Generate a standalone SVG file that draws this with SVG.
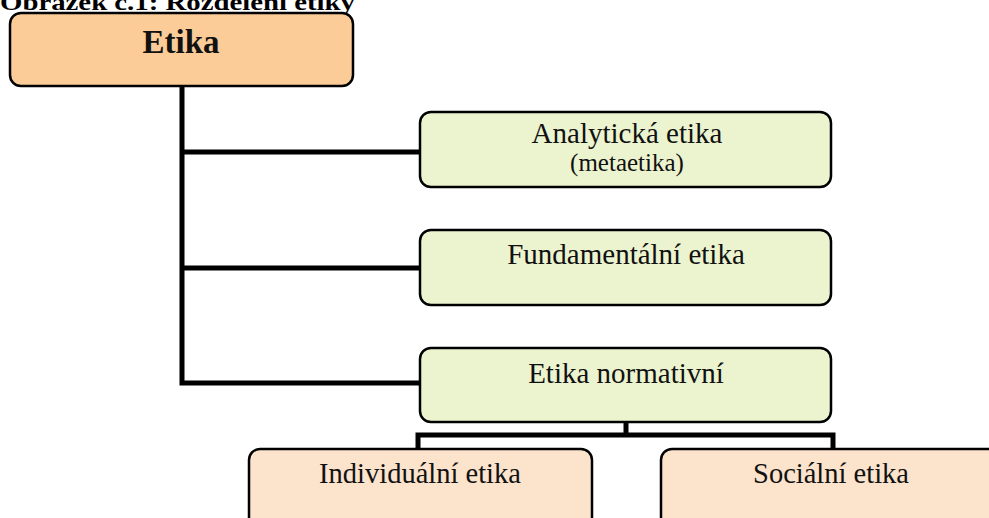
<svg xmlns="http://www.w3.org/2000/svg" width="989" height="518" viewBox="0 0 989 518">
<style>
.box{stroke:#000;stroke-width:2.5}
.root{fill:#FBCB98}
.green{fill:#ECF4CF}
.peach{fill:#FCE3CC}
.lbl{font-family:"Liberation Serif","Times New Roman",serif;fill:#111;text-anchor:middle}
.conn{stroke:#000;stroke-width:5;fill:none;stroke-linejoin:miter}
</style>
<rect width="989" height="518" fill="#fff"/>
<text x="0" y="10" font-family="Liberation Serif,serif" font-weight="bold" font-size="24" fill="#000" textLength="355" lengthAdjust="spacingAndGlyphs">Obrázek č.1: Rozdělení etiky</text>
<g id="connectors">
<path class="conn" d="M182 86 V383 H420"/>
<path class="conn" d="M182 152 H420"/>
<path class="conn" d="M182 268 H420"/>
<path class="conn" d="M626 422 V435"/>
<path class="conn" d="M418 449 V435 H833 V449"/>
</g>
<g id="etika">
<rect class="box root" x="10" y="13" width="343" height="73" rx="11"/>
<text class="lbl" x="181" y="53" font-size="33" font-weight="bold">Etika</text>
</g>
<g id="analyticka">
<rect class="box green" x="420" y="112" width="411" height="75" rx="11"/>
<text class="lbl" x="627" y="143" font-size="29">Analytická etika</text>
<text class="lbl" x="627" y="171" font-size="25">(metaetika)</text>
</g>
<g id="fundamentalni">
<rect class="box green" x="420" y="230" width="411" height="75" rx="11"/>
<text class="lbl" x="626" y="264" font-size="29">Fundamentální etika</text>
</g>
<g id="normativni">
<rect class="box green" x="420" y="348" width="411" height="74" rx="11"/>
<text class="lbl" x="626" y="383" font-size="29">Etika normativní</text>
</g>
<g id="individualni">
<rect class="box peach" x="249" y="449" width="343" height="80" rx="11"/>
<text class="lbl" x="420" y="483" font-size="28.5">Individuální etika</text>
</g>
<g id="socialni">
<rect class="box peach" x="661" y="449" width="343" height="80" rx="11"/>
<text class="lbl" x="831" y="483" font-size="28.5">Sociální etika</text>
</g>
</svg>
